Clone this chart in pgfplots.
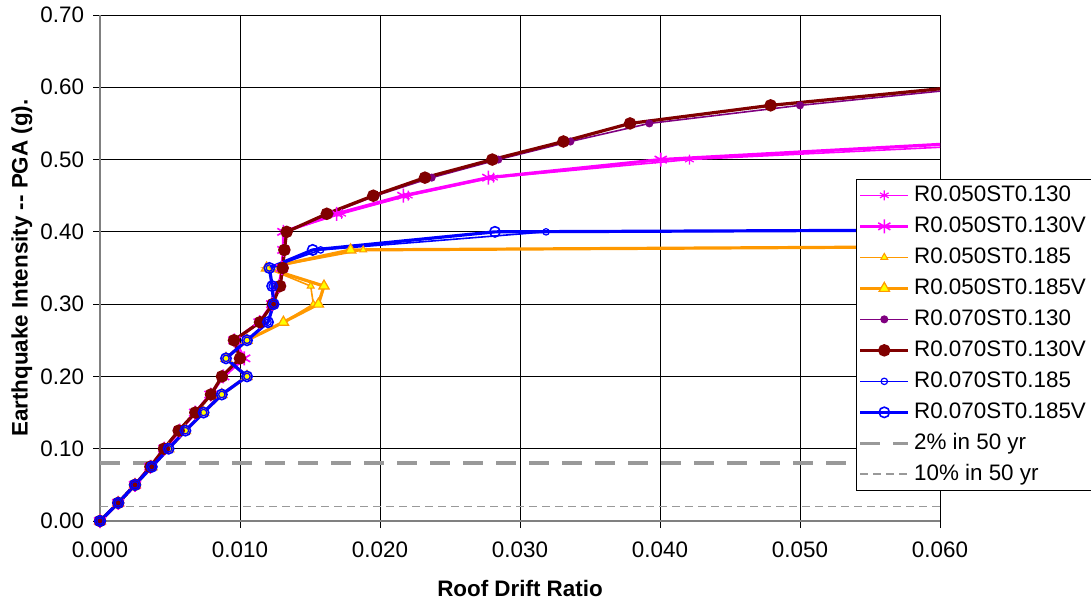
\documentclass[border=0pt]{standalone}
\usepackage{fontspec}
\setmainfont{Liberation Sans}
\usepackage{pgfplots}
\pgfplotsset{compat=1.18}
\definecolor{cmag}{HTML}{FF00FF}
\definecolor{corange}{HTML}{FF9900}
\definecolor{cyellow}{HTML}{FFFF00}
\definecolor{cpurple}{HTML}{800080}
\definecolor{cmaroon}{HTML}{800000}
\definecolor{cblue}{HTML}{0000FF}
\definecolor{cgray}{HTML}{999999}
\begin{document}
\begin{tikzpicture}
\begin{axis}[
  scale only axis, width=420bp, height=253bp,
  xmin=0, xmax=0.06, ymin=0, ymax=0.7,
  xtick={0,0.01,0.02,0.03,0.04,0.05,0.06},
  ytick={0,0.1,0.2,0.3,0.4,0.5,0.6,0.7},
  scaled ticks=false,
  axis lines*=left,
  axis line style={draw=gray, line width=0.8bp},
  grid=major, major grid style={black, line width=0.5bp},
  tick align=outside, major tick length=3.5bp, tick style={black, line width=0.5bp},
  /pgf/number format/assume math mode=true,
  xticklabel style={yshift=-3.5bp, /pgf/number format/.cd, fixed, fixed zerofill, precision=3},
  yticklabel style={xshift=-1bp, /pgf/number format/.cd, fixed, fixed zerofill, precision=2},
  ticklabel style={font=\fontsize{11.2bp}{13bp}\selectfont},
  label style={font=\bfseries\fontsize{11.2bp}{13bp}\selectfont},
  xlabel={Roof Drift Ratio},
  ylabel={Earthquake Intensity {-}{-} PGA (g).},
  xlabel style={at={(axis description cs:0.5,-0.1324)}, anchor=center},
  ylabel style={at={(axis description cs:-0.0929,0.5)}, anchor=center},
  legend style={at={(0.9,0.676)}, anchor=north west, draw=black, fill=white,
    line width=0.5bp, font=\fontsize{11.2bp}{13bp}\selectfont,
    inner xsep=1bp, inner ysep=1.2bp, row sep=2bp,
    nodes={inner xsep=2bp, inner ysep=1.5bp, text height=8.2bp, text depth=2.3bp}},
  legend cell align=left,
  legend image code/.code={\draw[mark repeat=2,mark phase=2,#1] plot coordinates {(0bp,0bp) (12bp,0bp) (24bp,0bp)};},
  clip=true,
]
% R0.050ST0.130 (thin)
\addplot[cmag, line width=0.8bp, mark=asterisk, mark size=2.5bp, mark options={solid, line width=0.6bp}] coordinates {
(0,0) (0.0013,0.025) (0.0025,0.05) (0.0036,0.075) (0.0046,0.1) (0.0057,0.125) (0.0068,0.15) (0.0079,0.175) (0.0088,0.2) (0.0103,0.225) (0.0096,0.25) (0.0114,0.275) (0.0123,0.3) (0.0128,0.325) (0.0130,0.35) (0.0131,0.375) (0.0131,0.4) (0.01726,0.425) (0.02202,0.45) (0.0281,0.475) (0.0421,0.5) (0.0684,0.525)};
\addlegendentry{R0.050ST0.130}
% R0.050ST0.130V (thick)
\addplot[cmag, line width=1.6bp, mark=asterisk, mark size=3.5bp, mark options={solid, line width=0.8bp}] coordinates {
(0,0) (0.0013,0.025) (0.0025,0.05) (0.0036,0.075) (0.0046,0.1) (0.0057,0.125) (0.0068,0.15) (0.0079,0.175) (0.0088,0.2) (0.0103,0.225) (0.0096,0.25) (0.0114,0.275) (0.0123,0.3) (0.0128,0.325) (0.0130,0.35) (0.0131,0.375) (0.0131,0.4) (0.0169,0.425) (0.02167,0.45) (0.02774,0.475) (0.04005,0.5) (0.0638,0.525)};
\addlegendentry{R0.050ST0.130V}
% R0.050ST0.185 (thin)
\addplot[corange, line width=0.8bp, mark=triangle*, mark size=2bp, mark options={solid, fill=cyellow, draw=corange, line width=0.5bp}] coordinates {
(0,0) (0.0013,0.025) (0.0025,0.05) (0.0037,0.075) (0.0049,0.1) (0.0061,0.125) (0.0074,0.15) (0.0087,0.175) (0.0105,0.2) (0.0090,0.225) (0.0105,0.25) (0.0131,0.275) (0.01524,0.3) (0.01505,0.325) (0.0119,0.35) (0.0188,0.375) (0.27,0.4)};
\addlegendentry{R0.050ST0.185}
% R0.050ST0.185V (thick)
\addplot[corange, line width=1.6bp, mark=triangle*, mark size=3bp, mark options={solid, fill=cyellow, draw=corange, line width=0.6bp}] coordinates {
(0,0) (0.0013,0.025) (0.0025,0.05) (0.0037,0.075) (0.0049,0.1) (0.0061,0.125) (0.0074,0.15) (0.0087,0.175) (0.0105,0.2) (0.0090,0.225) (0.0105,0.25) (0.0131,0.275) (0.0156,0.3) (0.0160,0.325) (0.0119,0.35) (0.0179,0.375) (0.26,0.4)};
\addlegendentry{R0.050ST0.185V}
% R0.070ST0.130 (thin)
\addplot[cpurple, line width=0.8bp, mark=*, mark size=1.6bp, mark options={solid, fill=cpurple}] coordinates {
(0,0) (0.0013,0.025) (0.0025,0.05) (0.0036,0.075) (0.0046,0.1) (0.0056,0.125) (0.0068,0.15) (0.0079,0.175) (0.0087,0.2) (0.0100,0.225) (0.0096,0.25) (0.0114,0.275) (0.0123,0.3) (0.0129,0.325) (0.0131,0.35) (0.0132,0.375) (0.0133,0.4) (0.0164,0.425) (0.0197,0.45) (0.02369,0.475) (0.02845,0.5) (0.0336,0.525) (0.03924,0.55) (0.0500,0.575) (0.0627,0.6)};
\addlegendentry{R0.070ST0.130}
% R0.070ST0.130V (thick)
\addplot[cmaroon, line width=1.6bp, mark=*, mark size=2.3bp, mark options={solid, fill=cmaroon}] coordinates {
(0,0) (0.0013,0.025) (0.0025,0.05) (0.0036,0.075) (0.00457,0.1) (0.00562,0.125) (0.00681,0.15) (0.00793,0.175) (0.00871,0.2) (0.0100,0.225) (0.00957,0.25) (0.01143,0.275) (0.01233,0.3) (0.01286,0.325) (0.01305,0.35) (0.01317,0.375) (0.01333,0.4) (0.0162,0.425) (0.01952,0.45) (0.02321,0.475) (0.02802,0.5) (0.0331,0.525) (0.03786,0.55) (0.0479,0.575) (0.0611,0.6)};
\addlegendentry{R0.070ST0.130V}
% R0.070ST0.185 (thin)
\addplot[cblue, line width=0.8bp, mark=o, mark size=1.6bp, mark options={solid, line width=0.6bp}] coordinates {
(0,0) (0.0013,0.025) (0.0025,0.05) (0.0037,0.075) (0.0049,0.1) (0.0061,0.125) (0.0074,0.15) (0.0087,0.175) (0.0105,0.2) (0.0090,0.225) (0.0105,0.25) (0.0120,0.275) (0.0124,0.3) (0.0123,0.325) (0.0121,0.35) (0.01576,0.375) (0.03186,0.4) (0.36,0.425)};
\addlegendentry{R0.070ST0.185}
% R0.070ST0.185V (thick)
\addplot[cblue, line width=1.6bp, mark=o, mark size=2.6bp, mark options={solid, line width=0.8bp}] coordinates {
(0,0) (0.0013,0.025) (0.0025,0.05) (0.0037,0.075) (0.0049,0.1) (0.0061,0.125) (0.0074,0.15) (0.0087,0.175) (0.0105,0.2) (0.0090,0.225) (0.0105,0.25) (0.0120,0.275) (0.0124,0.3) (0.0123,0.325) (0.0121,0.35) (0.01519,0.375) (0.02821,0.4) (0.35,0.425)};
\addlegendentry{R0.070ST0.185V}
% hazard levels
\addplot[cgray, line width=1.8bp, dash pattern=on 10bp off 6.5bp] coordinates {(0,0.08) (0.06,0.08)};
\addlegendentry{2\% in 50 yr}
\addplot[cgray, line width=0.9bp, dash pattern=on 4bp off 2.5bp] coordinates {(0,0.02) (0.06,0.02)};
\addlegendentry{10\% in 50 yr}
\end{axis}
\pgfresetboundingbox
\path[use as bounding box] (-50bp,-41.5bp) rectangle (495.5bp,260.5bp);
\end{tikzpicture}
\end{document}
